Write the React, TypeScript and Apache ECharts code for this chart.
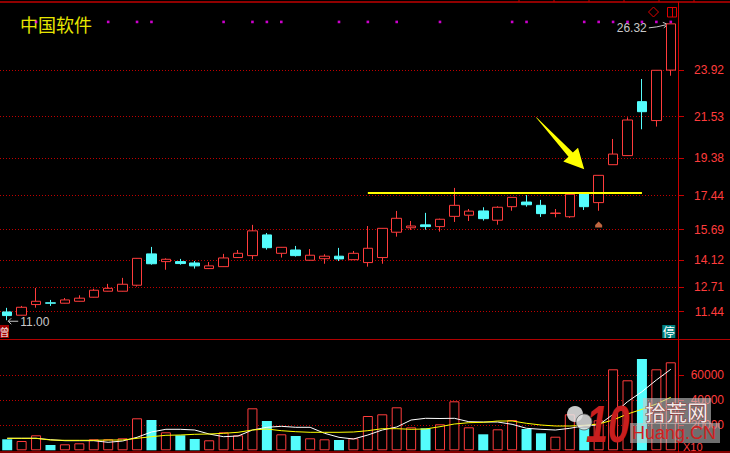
import React, { useEffect, useRef } from "react";
import * as echarts from "echarts";

const days = ["1","2","3","4","5","6","7","8","9","10","11","12","13","14","15","16","17","18","19","20","21","22","23","24","25","26","27","28","29","30","31","32","33","34","35","36","37","38","39","40","41","42","43","44","45","46","47"];

const opens = [11.43,11.26,11.81,11.90,11.88,11.98,12.19,12.50,12.50,12.81,14.43,14.03,14.03,13.96,13.67,13.77,14.24,14.34,15.41,14.46,14.63,14.10,14.18,14.31,14.13,13.98,14.24,15.55,15.78,15.93,15.84,16.37,16.43,16.65,16.17,16.87,17.11,16.94,16.52,16.35,17.54,17.08,19.04,19.51,22.30,21.32,23.93];
const closes = [11.24,11.67,11.98,11.88,12.05,12.14,12.55,12.65,12.86,14.20,13.92,14.15,13.93,13.81,13.81,14.22,14.46,15.62,14.75,14.77,14.34,14.36,14.31,14.17,14.46,14.72,15.75,16.27,15.87,15.84,16.22,16.94,16.64,16.25,16.84,17.35,16.97,16.51,16.54,17.51,16.87,18.49,19.59,21.35,21.78,23.92,26.32];
const lows = [11.00,11.25,11.65,11.74,11.87,11.97,12.18,12.49,12.49,12.74,13.87,13.61,13.87,13.67,13.66,13.76,14.23,14.15,14.65,14.24,14.29,14.09,13.92,14.06,14.12,13.77,13.92,15.32,15.67,15.68,15.58,16.08,16.13,16.15,15.94,16.66,16.87,16.34,16.32,16.29,16.70,16.66,19.03,19.50,20.87,21.01,23.64];
const highs = [11.64,11.74,12.67,12.05,12.15,12.29,12.63,12.88,13.19,14.21,14.79,14.20,14.17,14.06,14.01,14.43,14.63,15.93,15.51,14.78,14.84,14.68,14.41,14.74,14.58,15.87,15.76,16.65,16.13,16.55,16.25,17.84,16.75,16.84,16.89,17.36,17.47,17.22,16.75,17.52,17.56,18.50,20.37,21.49,23.47,23.93,26.32];

const volumes = [8800,7440,12000,4240,4800,5600,8800,8800,9600,25600,24240,14400,12000,9040,8000,14400,12000,33600,23440,12800,11440,9600,8800,8240,9600,27440,28800,34400,18400,17600,20800,39200,18400,12800,16800,24240,17040,13600,10880,28800,17840,24000,64800,56000,73040,64800,70400];
const volMa5 = [9600,9600,9600,8480,7680,7680,7680,6400,7440,10400,14640,16800,16800,16240,13040,10880,11440,16240,18400,19200,18400,18400,13600,10400,9040,12240,16240,18640,24240,25600,25440,25600,22880,22640,22640,20800,17600,16800,16240,17600,19680,20240,28800,38880,46880,56240,64800];
const volMa10 = [9600,9600,9600,8240,8000,8000,8000,8240,8240,9600,10880,12000,12240,12800,13040,13600,14400,16240,17040,15680,14880,14400,14400,14400,14640,15680,17280,17280,16800,17040,18880,21040,22080,22400,23440,23440,21600,20240,19440,19440,20000,21040,24240,29040,32800,37040,42400];

const priceTicks = [23.92, 21.53, 19.38, 17.44, 15.69, 14.12, 12.71, 11.44];
const volumeTicks = [20000, 40000, 60000];
const signalDays = [2,7,9,10,15,17,18,19,23,25,27,30,35,36,40,41,42,43,44,45,46];
const resistanceLevel = 17.59;
const resistanceFrom = 25;
const resistanceTo = 44;
const markerDay = 41;
const markerPrice = 15.95;
const arrowDay = 40;
const arrowPrice = 18.8;
const title = "中国软件";

const RED = "#ff3c3c";
const CYAN = "#54fcfc";
const DARK = "#c00000";

export default function App() {
  const ref = useRef<HTMLDivElement>(null);
  useEffect(() => {
    document.body.style.margin = "0";
    document.body.style.background = "#000";
    const chart = echarts.init(ref.current!, null, { renderer: "svg" });
    const grid = { left: -2, width: 680 };
    const option: any = {
      animation: false,
      backgroundColor: "#000",
      grid: [
        { ...grid, top: 2, height: 337 },
        { ...grid, top: 339, height: 113 },
      ],
      xAxis: [0, 1].map((g) => ({
        type: "category",
        gridIndex: g,
        data: days,
        boundaryGap: true,
        axisLine: { show: false },
        axisTick: { show: false },
        axisLabel: { show: false },
        splitLine: { show: false },
      })),
      yAxis: [
        {
          type: "value",
          gridIndex: 0,
          position: "right",
          min: 10.03,
          max: 27.45,
          axisLine: { show: true, lineStyle: { color: "#c80000", width: 1 } },
          axisTick: { show: true, customValues: priceTicks, length: 6, lineStyle: { color: "#c80000" } },
          axisLabel: {
            customValues: priceTicks,
            color: RED,
            fontSize: 12,
            fontFamily: "Liberation Sans",
            align: "right",
            margin: 46,
            formatter: (v: number) => v.toFixed(2),
          },
          splitLine: { show: false },
        },
        {
          type: "value",
          gridIndex: 1,
          position: "right",
          min: -1360,
          max: 89040,
          axisLine: { show: true, lineStyle: { color: "#c80000", width: 1 } },
          axisTick: { show: true, customValues: volumeTicks, length: 6, lineStyle: { color: "#c80000" } },
          axisLabel: {
            customValues: volumeTicks,
            color: RED,
            fontSize: 12,
            fontFamily: "Liberation Sans",
            align: "right",
            margin: 46,
            formatter: (v: number) => String(v),
          },
          splitLine: { show: false },
        },
      ],
      series: [
        {
          type: "candlestick",
          xAxisIndex: 0,
          yAxisIndex: 0,
          barWidth: 10,
          silent: true,
          data: opens.map((o, i) => [o, closes[i], lows[i], highs[i]]),
          itemStyle: { color: "#000", color0: CYAN, borderColor: RED, borderColor0: CYAN, borderWidth: 1 },
          markLine: {
            z: 1,
            silent: true,
            symbol: ["none", "none"],
            label: { show: false },
            lineStyle: { color: DARK, type: [1, 2], width: 1 },
            data: priceTicks.map((v) => ({ yAxis: v })),
          },
        },
        {
          type: "scatter",
          xAxisIndex: 0,
          yAxisIndex: 0,
          silent: true,
          symbol: "rect",
          symbolSize: 2.6,
          itemStyle: { color: "#ff00ff" },
          data: signalDays.map((d) => [d, 26.42]),
          markLine: {
            silent: true,
            symbol: ["none", "none"],
            label: { show: false },
            lineStyle: { color: "#ffff00", type: "solid", width: 2 },
            data: [[{ coord: [resistanceFrom, resistanceLevel] }, { coord: [resistanceTo, resistanceLevel] }]],
          },
        },
        {
          type: "scatter",
          xAxisIndex: 0,
          yAxisIndex: 0,
          silent: true,
          symbol: "path://M0,4 L4,0 L8,4 L8,7 L0,7 Z",
          symbolSize: [7, 6],
          itemStyle: { color: "#f08050" },
          data: [[markerDay, markerPrice]],
        },
        {
          type: "bar",
          xAxisIndex: 1,
          yAxisIndex: 1,
          barWidth: 10,
          silent: true,
          data: volumes.map((v, i) => ({
            value: v,
            itemStyle:
              closes[i] >= opens[i]
                ? { color: "#000", borderColor: RED, borderWidth: 1 }
                : { color: CYAN, borderWidth: 0 },
          })),
          markLine: {
            z: 1,
            silent: true,
            symbol: ["none", "none"],
            label: { show: false },
            lineStyle: { color: DARK, type: [1, 2], width: 1 },
            data: volumeTicks.map((v) => ({ yAxis: v })),
          },
        },
        {
          type: "line",
          xAxisIndex: 1,
          yAxisIndex: 1,
          silent: true,
          symbol: "none",
          z: 4,
          lineStyle: { color: "#ffffff", width: 1 },
          data: volMa5,
        },
        {
          type: "line",
          xAxisIndex: 1,
          yAxisIndex: 1,
          silent: true,
          symbol: "none",
          z: 4,
          lineStyle: { color: "#ffff00", width: 1 },
          data: volMa10,
        },
      ],
    };
    chart.setOption(option);

    const px = (d: number, v: number) => chart.convertToPixel({ xAxisIndex: 0, yAxisIndex: 0 }, [d, v]) as number[];
    const last = opens.length - 1;
    const maxHigh = Math.max(...highs);
    const minLow = Math.min(...lows);
    const maxIdx = highs.indexOf(maxHigh);
    const minIdx = lows.indexOf(minLow);
    const [hx, hy] = px(maxIdx, maxHigh);
    const [lx, ly] = px(minIdx, minLow);
    const [tx, ty] = px(arrowDay, arrowPrice);
    const [bx] = px(last, 10.03);

    const ax = tx - 48, ay = ty - 52;
    const len = Math.hypot(tx - ax, ty - ay);
    const dx = (tx - ax) / len, dy = (ty - ay) / len;
    const nx = -dy, ny = dx;
    const hb = [tx - 20 * dx, ty - 20 * dy];
    const arrowPts = [
      [ax - 0.3 * nx, ay - 0.3 * ny],
      [hb[0] - 3 * nx, hb[1] - 3 * ny],
      [hb[0] - 10 * nx, hb[1] - 10 * ny],
      [tx, ty],
      [hb[0] + 10 * nx, hb[1] + 10 * ny],
      [hb[0] + 3 * nx, hb[1] + 3 * ny],
      [ax + 0.3 * nx, ay + 0.3 * ny],
    ];

    const grey = "#c8c8c8";
    const graphic: any[] = [
      { type: "line", shape: { x1: 0, y1: 2, x2: 730, y2: 2 }, style: { stroke: DARK, lineWidth: 1.5 }, silent: true },
      ...[519, 554, 589, 624, 659, 694].map((x) => ({
        type: "line", shape: { x1: x, y1: 0, x2: x, y2: 2 }, style: { stroke: DARK, lineWidth: 1 }, silent: true,
      })),
      { type: "line", shape: { x1: 0, y1: 339.5, x2: 730, y2: 339.5 }, style: { stroke: "#b00000", lineWidth: 1 }, silent: true },
      { type: "line", shape: { x1: 0, y1: 452, x2: 730, y2: 452 }, style: { stroke: "#b00000", lineWidth: 1.5 }, silent: true },
      {
        type: "text", x: 20, y: 24, silent: true,
        style: { text: title, fill: "#e6e600", fontSize: 18, fontFamily: "Noto Sans CJK SC", verticalAlign: "middle" },
      },
      { type: "polygon", shape: { points: [[653.5, 7], [658.5, 12], [653.5, 17], [648.5, 12]] }, style: { fill: "none", stroke: "#e00000", lineWidth: 1 }, silent: true },
      { type: "rect", shape: { x: 667.5, y: 7.5, width: 9, height: 9.5 }, style: { fill: "none", stroke: "#e00000", lineWidth: 1 }, silent: true },
      { type: "line", shape: { x1: 672.5, y1: 7.5, x2: 672.5, y2: 17 }, style: { stroke: "#e00000", lineWidth: 1 }, silent: true },
      {
        type: "text", x: hx - 24, y: hy + 4.5, silent: true,
        style: { text: maxHigh.toFixed(2), fill: grey, fontSize: 12, fontFamily: "Liberation Sans", align: "right", verticalAlign: "middle" },
      },
      { type: "polyline", shape: { points: [[hx - 22, hy + 4], [hx - 14, hy + 3], [hx - 3, hy + 0.5]] }, style: { stroke: grey, lineWidth: 1, fill: "none" }, silent: true },
      { type: "polyline", shape: { points: [[hx - 8, hy - 1.5], [hx - 3, hy + 0.5], [hx - 7, hy + 4]] }, style: { stroke: grey, lineWidth: 1, fill: "none" }, silent: true },
      {
        type: "text", x: lx + 13, y: ly + 2, silent: true,
        style: { text: minLow.toFixed(2), fill: grey, fontSize: 12, fontFamily: "Liberation Sans", align: "left", verticalAlign: "middle" },
      },
      { type: "polyline", shape: { points: [[lx + 11, ly + 1], [lx + 1, ly + 1]] }, style: { stroke: grey, lineWidth: 1, fill: "none" }, silent: true },
      { type: "polyline", shape: { points: [[lx + 4, ly - 2], [lx + 1, ly + 1], [lx + 4, ly + 4]] }, style: { stroke: grey, lineWidth: 1, fill: "none" }, silent: true },
      { type: "polygon", shape: { points: arrowPts }, style: { fill: "#ffff00", stroke: "none" }, silent: true, z: 10 },
      { type: "rect", shape: { x: bx - 8.5, y: 325, width: 13, height: 13 }, style: { fill: "#008080" }, silent: true, z: 10 },
      {
        type: "text", x: bx - 2, y: 331.5, silent: true, z: 11,
        style: { text: "停", fill: "#ffffff", fontSize: 12, fontFamily: "Noto Sans CJK SC", align: "center", verticalAlign: "middle" },
      },
      { type: "rect", shape: { x: 0, y: 325, width: 9, height: 13 }, style: { fill: "#a00000" }, silent: true, z: 10 },
      {
        type: "text", x: 4.5, y: 331.5, silent: true, z: 11,
        style: { text: "曾", fill: "#ffffff", fontSize: 10, fontFamily: "Noto Sans CJK SC", align: "center", verticalAlign: "middle" },
      },
      {
        type: "text", x: 683, y: 447, silent: true,
        style: { text: "X10", fill: RED, fontSize: 11, fontFamily: "Liberation Sans", verticalAlign: "middle" },
      },
      { type: "circle", shape: { cx: 575, cy: 414, r: 8 }, style: { fill: "rgba(235,235,235,0.85)" }, silent: true, z: 20 },
      { type: "circle", shape: { cx: 584, cy: 422, r: 8 }, style: { fill: "rgba(225,225,225,0.85)", stroke: "rgba(90,90,90,0.8)", lineWidth: 1 }, silent: true, z: 20 },
      { type: "rect", shape: { x: 643, y: 398, width: 68, height: 26 }, style: { fill: "rgba(200,200,200,0.6)" }, silent: true, z: 20 },
      { type: "rect", shape: { x: 630, y: 423, width: 90, height: 20 }, style: { fill: "rgba(200,200,200,0.55)" }, silent: true, z: 20 },
      {
        type: "text", x: 586, y: 424, scaleX: 0.75, silent: true, z: 21,
        style: { text: "10", fill: "#c81e1e", fontSize: 52, fontWeight: "bold", fontStyle: "italic", fontFamily: "Liberation Sans", verticalAlign: "middle" },
      },
      {
        type: "text", x: 645, y: 411, silent: true, z: 21,
        style: { text: "拾荒网", fill: "rgba(245,245,245,0.95)", stroke: "rgba(150,40,40,0.8)", lineWidth: 1, fontSize: 21, fontFamily: "Noto Sans CJK SC", verticalAlign: "middle" },
      },
      {
        type: "text", x: 632, y: 433, silent: true, z: 21,
        style: { text: "Huang.CN", fill: "#d02020", fontSize: 18, fontFamily: "Liberation Sans", verticalAlign: "middle" },
      },
    ];
    chart.setOption({ graphic });
    return () => chart.dispose();
  }, []);
  return <div ref={ref} style={{ position: "fixed", left: 0, top: 0, width: 730, height: 453, background: "#000" }} />;
}
